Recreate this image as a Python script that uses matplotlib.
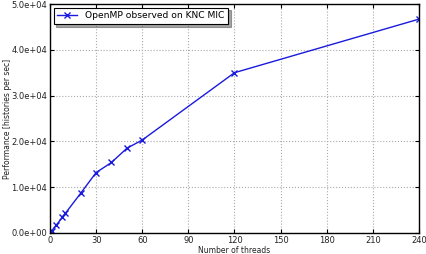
import matplotlib
matplotlib.use('Agg')
import matplotlib.pyplot as plt
from matplotlib.ticker import FormatStrFormatter

# data
threads = [1, 4, 8, 10, 20, 30, 40, 50, 60, 120, 240]
perf = [400, 1700, 3400, 4300, 8700, 13200, 15400, 18500, 20300, 35000, 46700]
xticks = [0, 30, 60, 90, 120, 150, 180, 210, 240]
yticks = [0, 1e4, 2e4, 3e4, 4e4, 5e4]

fig = plt.figure(figsize=(4.27, 2.54), dpi=100)
ax = fig.add_axes([50/427, 21/254, 369/427, 229/254])

ax.plot(threads, perf, color='#1a1add', marker='x', markersize=4, markeredgewidth=1.0,
        linewidth=1.0, label='OpenMP observed on KNC MIC')

ax.set_xlim(0, 240)
ax.set_ylim(0, 5e4)
ax.set_xticks(xticks)
ax.set_yticks(yticks)
ax.yaxis.set_major_formatter(FormatStrFormatter('%.1e'))
ax.tick_params(direction='in', top=True, right=True, labelsize=6, length=3, pad=2,
               labelcolor='#222222')
ax.grid(True, linestyle=':', color='#aaaaaa', linewidth=0.8)

for s in ax.spines.values():
	s.set_linewidth(1.0)

ax.set_xlabel('Number of threads', fontsize=5.5, labelpad=1, color='#222222')
ax.set_ylabel('Performance [histories per sec]', fontsize=5.5, color='#222222')
ax.yaxis.set_label_coords(-38/369, 0.5)

leg = ax.legend(loc='upper left', fontsize=6.6, fancybox=False, shadow=True,
                borderpad=0.4, handlelength=2.2, borderaxespad=0.4)
leg.get_frame().set_edgecolor('black')
leg.get_frame().set_linewidth(0.8)

plt.savefig('out.png', dpi=100)
